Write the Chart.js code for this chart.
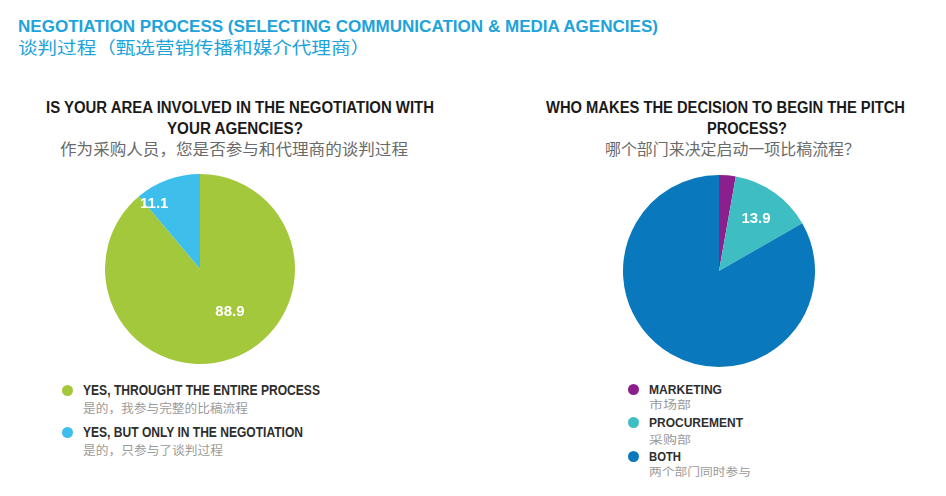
<!DOCTYPE html>
<html>
<head>
<meta charset="utf-8">
<script src="https://cdn.jsdelivr.net/npm/chart.js@4.4.1/dist/chart.umd.min.js"></script>
<style>
  body { margin: 0; background: #ffffff; }
  #page { position: relative; width: 946px; height: 496px; overflow: hidden; background: #fff; }
  .t { position: absolute; white-space: nowrap; transform-origin: 0 50%; }
  .sans { font-family: "Liberation Sans", Arial, sans-serif; }
  .cjk { font-family: "Noto Sans CJK SC", sans-serif; }
  .head { color: #20a3db; }
  .bold { font-weight: bold; }
  .q { color: #1a1a1a; font-weight: bold; }
  .qc { color: #6a6a6a; }
  .dot { position: absolute; width: 11px; height: 11px; border-radius: 50%; }
  .lg { color: #2e2e2e; font-weight: bold; }
  .lgc { color: #9a9a9a; }
  canvas { position: absolute; }
</style>
</head>
<body>
<div id="page">
  <div class="t sans head bold" data-x="18" data-y="27" data-w="640" data-s="16">NEGOTIATION PROCESS (SELECTING COMMUNICATION &amp; MEDIA AGENCIES)</div>
  <div class="t cjk head" data-x="18" data-y="46.5" data-w="352" data-s="17">谈判过程（甄选营销传播和媒介代理商）</div>

  <div class="t sans q" data-x="46" data-y="108" data-w="388" data-s="16">IS YOUR AREA INVOLVED IN THE NEGOTIATION WITH</div>
  <div class="t sans q" data-x="167" data-y="128.5" data-w="136" data-s="16">YOUR AGENCIES?</div>
  <div class="t cjk qc" data-x="60" data-y="148.5" data-w="348" data-s="15.5">作为采购人员，您是否参与和代理商的谈判过程</div>

  <div class="t sans q" data-x="546" data-y="108" data-w="359" data-s="16">WHO MAKES THE DECISION TO BEGIN THE PITCH</div>
  <div class="t sans q" data-x="707" data-y="128.5" data-w="80" data-s="16">PROCESS?</div>
  <div class="t cjk qc" data-x="605" data-y="148.5" data-w="255" data-s="15.5">哪个部门来决定启动一项比稿流程？</div>

  <canvas id="pieLeft" width="190" height="190" style="left:105px; top:174px; width:190px; height:190px;"></canvas>
  <canvas id="pieRight" width="192" height="192" style="left:623px; top:175px; width:192px; height:192px;"></canvas>

  <div id="legendLeft"></div>
  <div id="legendRight"></div>
</div>

<script>
// left chart: is your area involved in the negotiation
const leftLabels = ['YES, THROUGHT THE ENTIRE PROCESS', 'YES, BUT ONLY IN THE NEGOTIATION'];
const leftLabelsZh = ['是的，我参与完整的比稿流程', '是的，只参与了谈判过程'];
const leftValues = [88.9, 11.1];
const leftColors = ['#a3c83b', '#3ebfeb'];

// right chart: who makes the decision to begin the pitch
const rightLabels = ['MARKETING', 'PROCUREMENT', 'BOTH'];
const rightLabelsZh = ['市场部', '采购部', '两个部门同时参与'];
const rightValues = [2.8, 13.9, 83.3];
const rightColors = ['#8c1f8e', '#3ebec3', '#0a78bd'];
const rightShown = [false, true, false]; // only procurement is labelled in the original

// white value labels drawn on the slices
const sliceLabels = {
    id: 'sliceLabels',
    afterDatasetsDraw(chart, args, opts) {
        const ctx = chart.ctx;
        const meta = chart.getDatasetMeta(0);
        const values = chart.data.datasets[0].data;
        ctx.save();
        ctx.fillStyle = '#ffffff';
        ctx.font = 'bold 15px "Liberation Sans", Arial, sans-serif';
        ctx.textAlign = 'center';
        ctx.textBaseline = 'middle';
        meta.data.forEach(function(arc, i) {
            if (opts.shown && !opts.shown[i]) return;
            const mid = (arc.startAngle + arc.endAngle) / 2 + opts.shift * Math.PI / 180;
            const frac = values[i] > 50 ? opts.bigRadius : opts.smallRadius;
            const r = arc.outerRadius * frac;
            ctx.fillText(values[i].toFixed(1), arc.x + Math.cos(mid) * r, arc.y + Math.sin(mid) * r);
        });
        ctx.restore();
    }
};

function makePie(id, labels, values, colors, labelOpts) {
    return new Chart(document.getElementById(id).getContext('2d'), {
        type: 'pie',
        data: {
            labels: labels,
            datasets: [{
                data: values,
                backgroundColor: colors,
                borderWidth: 0
            }]
        },
        options: {
            responsive: false,
            animation: false,
            layout: { padding: 0 },
            plugins: {
                legend: { display: false },
                tooltip: { enabled: false },
                sliceLabels: labelOpts
            }
        },
        plugins: [sliceLabels]
    });
}

makePie('pieLeft', leftLabels, leftValues, leftColors,
    { shown: null, shift: -15, bigRadius: 0.55, smallRadius: 0.84 });
makePie('pieRight', rightLabels, rightValues, rightColors,
    { shown: rightShown, shift: 0, bigRadius: 0.55, smallRadius: 0.67 });

function textDiv(cls, x, y, w, size, text) {
    return '<div class="t ' + cls + '" data-x="' + x + '" data-y="' + y + '" data-w="' + w +
        '" data-s="' + size + '">' + text + '</div>';
}

function buildLegend(el, x, rows, widths, sizes, labels, labelsZh, colors) {
    let html = '';
    labels.forEach(function(label, i) {
        const r = rows[i];
        html += '<div class="dot" style="left:' + (x - 5.5) + 'px; top:' + (r[0] - 5.5) + 'px; background:' + colors[i] + ';"></div>';
        html += textDiv('sans lg', x + 16, r[0], widths[i][0], sizes[0], label);
        html += textDiv('cjk lgc', x + 16, r[1], widths[i][1], sizes[1], labelsZh[i]);
    });
    document.getElementById(el).innerHTML = html;
}

buildLegend('legendLeft', 67, [[390, 408], [432, 450]], [[237, 165], [220, 140]], [14, 12],
    leftLabels, leftLabelsZh, leftColors);
buildLegend('legendRight', 633, [[389, 404.5], [422, 439], [456, 471.5]], [[73, 42], [94, 42], [32, 102]], [13, 11],
    rightLabels, rightLabelsZh, rightColors);

// place each text line by its left edge and vertical centre, squeezed to the width seen in the reference
function fitTexts() {
    document.querySelectorAll('.t').forEach(function(el) {
        const s = parseFloat(el.dataset.s);
        el.style.fontSize = s + 'px';
        el.style.lineHeight = s + 'px';
        el.style.left = el.dataset.x + 'px';
        el.style.top = (parseFloat(el.dataset.y) - s / 2) + 'px';
        el.style.transform = 'none';
        const w = el.getBoundingClientRect().width;
        el.style.transform = 'scaleX(' + (parseFloat(el.dataset.w) / w) + ')';
    });
}
fitTexts();
if (document.fonts && document.fonts.ready) document.fonts.ready.then(fitTexts);
</script>
</body>
</html>
